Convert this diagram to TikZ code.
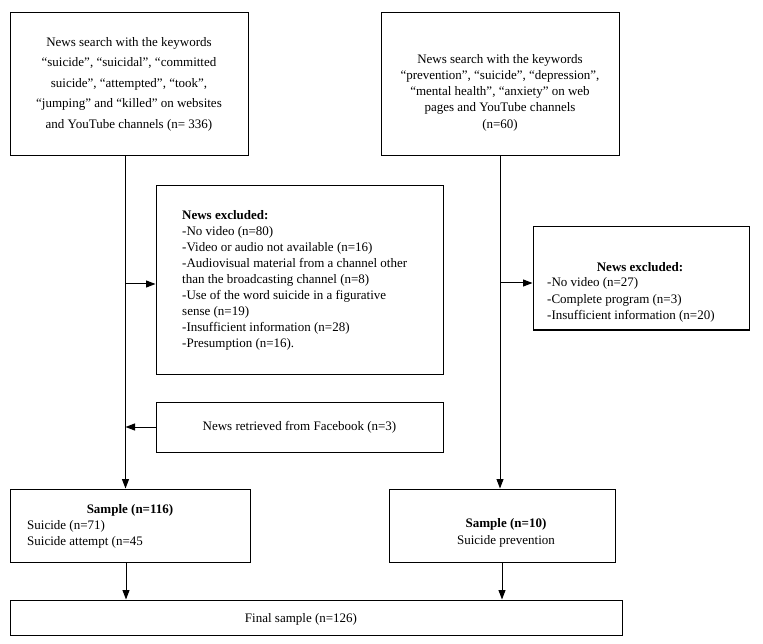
\documentclass[tikz,border=0pt]{standalone}
\usepackage{fontspec}
\setmainfont{Liberation Serif}
\usetikzlibrary{arrows.meta}
\begin{document}
\begin{tikzpicture}[x=1pt,y=-1pt,
  box/.style={draw, line width=1pt, inner sep=0pt},
  txt/.style={inner sep=0pt, font=\fontsize{13}{16}\selectfont},
  arr/.style={line width=1pt, -{Triangle[length=9.5pt,width=7pt]}}]
\useasboundingbox (0,0) rectangle (763,644);
% boxes
\node[box, minimum width=238pt, minimum height=143pt] (b1) at (129,84.5) {};
\node[box, minimum width=238pt, minimum height=143pt] (b2) at (500,84.5) {};
\node[box, minimum width=287pt, minimum height=188pt] (ex1) at (299.5,280) {};
\node[box, minimum width=216pt, minimum height=103pt] (ex2) at (641,278.5) {};
\node[box, minimum width=287pt, minimum height=50pt] (fb) at (299.5,427) {};
\node[box, minimum width=240pt, minimum height=73pt] (s116) at (130,525.5) {};
\node[box, minimum width=226pt, minimum height=73pt] (s10) at (502,525.5) {};
\node[box, minimum width=612pt, minimum height=35pt] (fin) at (316,617.5) {};
% texts
\node[txt, align=center, font=\fontsize{13}{20.5}\selectfont] (b1t) at (129,84) {News search with the keywords\\“suicide”, “suicidal”, “committed\\suicide”, “attempted”, “took”,\\“jumping” and “killed” on websites\\and YouTube channels (n= 336)};
\node[txt, align=center, font=\fontsize{13}{16.3}\selectfont] (b2t) at (500,92.5) {News search with the keywords\\“prevention”, “suicide”, “depression”,\\“mental health”, “anxiety” on web\\pages and YouTube channels\\(n=60)};
\node[txt, align=left, anchor=west] (ex1t) at (182,280) {\textbf{News excluded:}\\-No video (n=80)\\-Video or audio not available (n=16)\\-Audiovisual material from a channel other\\than the broadcasting channel (n=8)\\-Use of the word suicide in a figurative\\sense (n=19)\\-Insufficient information (n=28)\\-Presumption (n=16).};
\node[txt] (ex2h) at (640,267) {\textbf{News excluded:}};
\node[txt, align=left, anchor=west, font=\fontsize{13}{16.5}\selectfont] (ex2t) at (547,300) {-No video (n=27)\\-Complete program (n=3)\\-Insufficient information (n=20)};
\node[txt] (fbt) at (299.5,427) {News retrieved from Facebook (n=3)};
\node[txt] (s116h) at (130,510) {\textbf{Sample (n=116)}};
\node[txt, align=left, anchor=west] (s116t) at (27,534) {Suicide (n=71)\\Suicide attempt (n=45};
\node[txt, align=center, font=\fontsize{13}{17}\selectfont] (s10t) at (506,532.5) {\textbf{Sample (n=10)}\\Suicide prevention};
\node[txt] (fint) at (301,619) {Final sample (n=126)};
% connectors
\coordinate (lt) at ([xshift=-3.5pt]b1.south);
\draw[arr] (lt) -- (lt |- s116.north);
\draw[arr] (b2.south) -- (b2.south |- s10.north);
\coordinate (j1) at (lt |- 0,284);
\draw[arr] (j1) -- (j1 -| ex1.west);
\coordinate (j2) at (b2.south |- 0,283);
\draw[arr] (j2) -- (j2 -| ex2.west);
\draw[arr] (fb.west) -- (fb.west -| lt);
\coordinate (lb) at ([xshift=-4pt]s116.south);
\draw[arr] (lb) -- (lb |- fin.north);
\draw[arr] (s10.south) -- (s10.south |- fin.north);
\end{tikzpicture}
\end{document}
